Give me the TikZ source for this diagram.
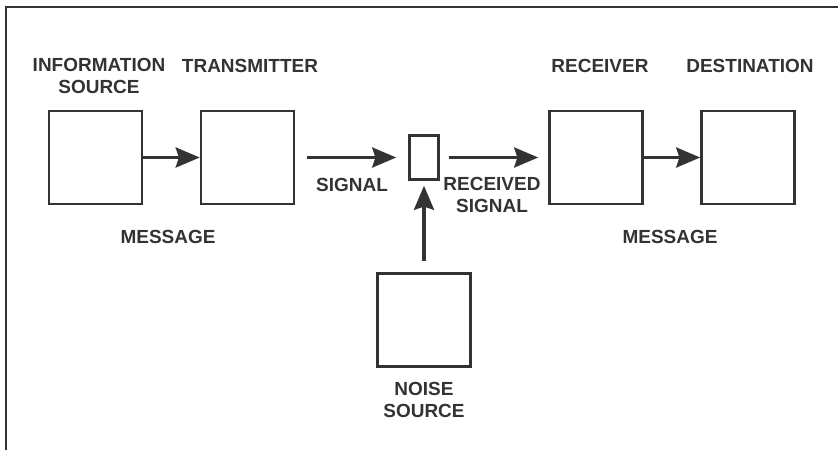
\documentclass[tikz,border=0pt]{standalone}
\usepackage{fontspec}
\setmainfont{Liberation Sans}
\usetikzlibrary{arrows.meta,positioning}
\definecolor{ink}{HTML}{333333}
\tikzset{
  font=\fontsize{13.5}{15.5}\selectfont\bfseries,
  box/.style={draw=ink, line width=1.8pt, minimum width=23.25mm, minimum height=23.25mm, inner sep=0pt},
  joint/.style={box, minimum width=7.25mm, minimum height=11mm},
  caption/.style={text=ink, align=center, inner sep=0pt, anchor=base},
  flow/.style={-{Stealth[length=6mm,width=5mm,inset=0.8mm]}, draw=ink, line width=2.4pt},
  frame/.style={draw=ink, line width=0.8pt}
}

\begin{document}
\begin{tikzpicture}[x=0.025cm, y=-0.025cm]
  \useasboundingbox (0,0) rectangle (838,450);
  \draw[frame] (6,450) |- (838,7);

  % blocks of the chain
  \node[box] (source) at (95.5,157.5) {};
  \node[box] (transmitter) at (247.5,157.5) {};
  \node[joint] (channel) at (424,157.5) {};
  \node[box] (receiver) at (596,157.5) {};
  \node[box] (destination) at (748,157.5) {};
  \node[box] (noise) at (424,320) {};

  % captions (base = last line)
  \node[caption] (sourcelabel) at (99,93) {INFORMATION\\SOURCE};
  \node[caption] (transmitterlabel) at (250,72) {TRANSMITTER};
  \node[caption] (receiverlabel) at (600,72) {RECEIVER};
  \node[caption] (destinationlabel) at (750,72) {DESTINATION};
  \node[caption] (signallabel) at (352,191) {SIGNAL};
  \node[caption] (receivedlabel) at (492,212) {RECEIVED\\SIGNAL};
  \node[caption] (messagein) at (168,243) {MESSAGE};
  \node[caption] (messageout) at (670,243) {MESSAGE};
  \node[caption] (noiselabel) at (424,417) {NOISE\\SOURCE};

  % connectors
  \draw[flow] (source) -- (transmitter);
  \draw[flow, shorten <=3mm, shorten >=3mm] (transmitter) -- (channel);
  \draw[flow, shorten <=2.25mm, shorten >=2.5mm] (channel) -- (receiver);
  \draw[flow] (receiver) -- (destination);
  \draw[flow, shorten <=2.75mm, shorten >=1.25mm] (noise) -- (channel);
\end{tikzpicture}
\end{document}
